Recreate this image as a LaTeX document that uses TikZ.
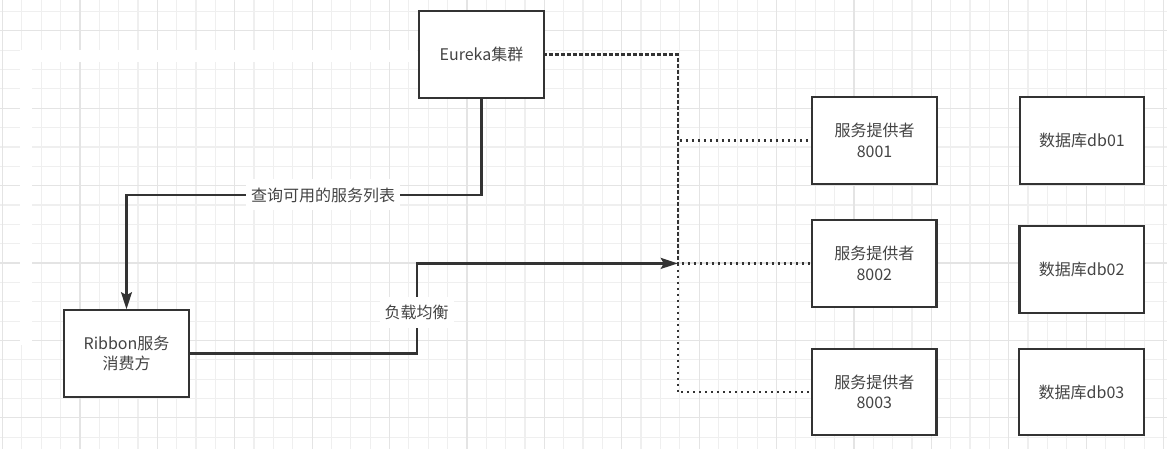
\documentclass[tikz,border=0pt]{standalone}
\usepackage{fontspec}
\newfontfamily\cjk{Noto Sans CJK SC}
\usetikzlibrary{arrows.meta}
\definecolor{gridminor}{RGB}{239,239,239}
\definecolor{gridmajor}{RGB}{228,228,228}
\definecolor{edgecol}{RGB}{51,51,51}
\definecolor{txtcol}{RGB}{68,68,68}
\tikzset{
  boxnode/.style={draw=edgecol, line width=2.2pt, fill=white, minimum width=124.5pt, minimum height=86.5pt,
    inner sep=0pt, font=\cjk\fontsize{16}{20.5}\selectfont, text=txtcol, align=center},
  conn/.style={draw=edgecol, line width=2.2pt},
  arr/.style={-{Stealth[length=17pt,width=11pt,inset=3pt]}},
  dotline/.style={draw=edgecol, line width=2.2pt, dash pattern=on 2pt off 4pt},
  lbl/.style={fill=white, font=\cjk\fontsize{16}{20}\selectfont, text=txtcol, inner xsep=5pt, inner ysep=0pt, minimum height=31pt},
}
\begin{document}
\begin{tikzpicture}[x=1pt,y=-1pt]
\useasboundingbox (0,0) rectangle (1167,449);
\fill[white] (0,0) rectangle (1167,449);
% grid
\foreach \i in {0,...,60} \draw[gridminor, line width=1.2pt] ({2.5+19.35*\i},0) -- ({2.5+19.35*\i},449);
\foreach \j in {0,...,23} \draw[gridminor, line width=1.2pt] (0,{11.5+19.35*\j}) -- (1167,{11.5+19.35*\j});
\foreach \i in {0,...,15} \draw[gridmajor, line width=1.2pt] ({2.5+77.4*\i},0) -- ({2.5+77.4*\i},449);
\foreach \j in {0,...,5} \draw[gridmajor, line width=1.2pt] (0,{30.85+77.4*\j}) -- (1167,{30.85+77.4*\j});
% white erased bands
\fill[white] (25,50) rectangle (417,62);
\fill[white] (20,50) rectangle (32,345);

% nodes
\node[boxnode] (eureka) at (481.5,54.5) {Eureka集群};
\node[boxnode] (ribbon) at (126.5,353.5) {Ribbon服务\\消费方};
\node[boxnode] (p1) at (874.5,140.5) {服务提供者\\8001};
\node[boxnode] (p2) at (874.3,263.4) {服务提供者\\8002};
\node[boxnode] (p3) at (874.3,392) {服务提供者\\8003};
\node[boxnode] (db1) at (1082,140.5) {数据库db01};
\node[boxnode] (db2) at (1081.7,269.5) {数据库db02};
\node[boxnode] (db3) at (1081.5,392) {数据库db03};

\coordinate (trunk) at (677.7,54.5);
\coordinate (lb) at (677.7,263.4);

% dotted edges from Eureka to providers
\draw[dotline, dash phase=0pt] (eureka.east) -- (trunk) |- (p3.west);
\draw[dotline, dash phase=2pt] (eureka.east) -- (trunk) |- (p2.west);
\draw[dotline, dash phase=1pt] (eureka.east) -- (trunk) |- (p1.west);

% query edge
\draw[conn, arr] (eureka.south) -- (eureka.south |- 0,195)
  -- node[lbl, pos=0.446] (qlabel) {查询可用的服务列表} (ribbon.north |- 0,195)
  -- (ribbon.north);

% load balance edge
\draw[conn, arr] (ribbon.east) -- (416.7,353.5)
  -- node[lbl, pos=0.46] (lblabel) {负载均衡} (416.7,263.4)
  -- (lb);
\end{tikzpicture}
\end{document}
